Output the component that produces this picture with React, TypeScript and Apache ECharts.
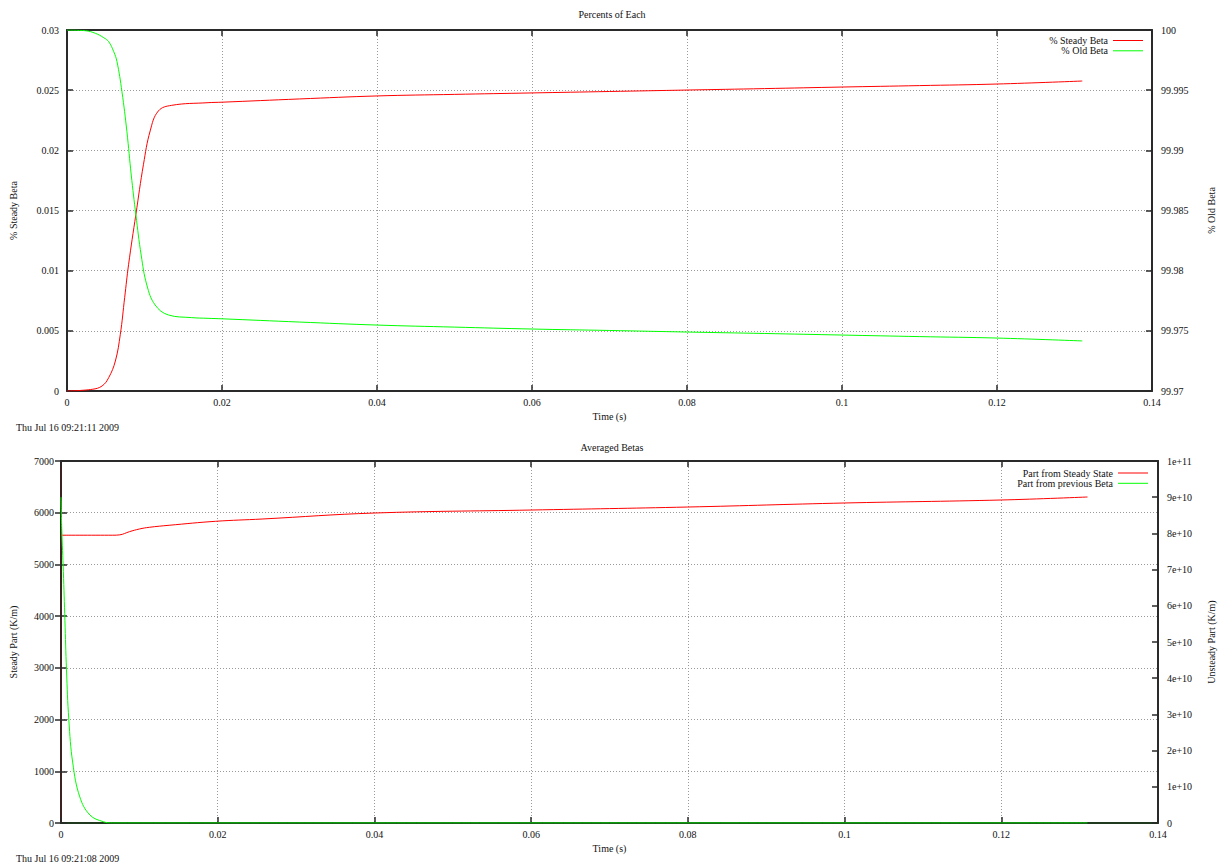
import React, { useEffect, useRef } from "react";
import * as echarts from "echarts";

// ---------- Data: "Percents of Each" (top chart) ----------
const steadyBetaTime = [
  0, 0.00325, 0.00453, 0.00538, 0.00624, 0.00688, 0.00744, 0.00795, 0.00889,
  0.00987, 0.01073, 0.01179, 0.0135, 0.0182, 0.02, 0.03, 0.04, 0.05, 0.06,
  0.07, 0.08, 0.09, 0.1, 0.11, 0.12, 0.131,
];
const steadyBetaPct = [
  0, 0.00014, 0.00042, 0.00111, 0.00249, 0.00471, 0.00776, 0.01053, 0.01468,
  0.01884, 0.02161, 0.02327, 0.02374, 0.02396, 0.024, 0.02427, 0.02452,
  0.02465, 0.02477, 0.02489, 0.02501, 0.02513, 0.02526, 0.02538, 0.02551,
  0.02576,
];
const oldBetaTime = [
  0, 0.00239, 0.00368, 0.00474, 0.00538, 0.00603, 0.00645, 0.00709, 0.00773,
  0.00829, 0.00889, 0.00957, 0.0103, 0.01137, 0.01308, 0.01607, 0.0182, 0.02,
  0.03, 0.04, 0.05, 0.06, 0.07, 0.08, 0.09, 0.1, 0.11, 0.12, 0.131,
];
const oldBetaPct = [
  100, 99.99994, 99.99972, 99.99936, 99.99903, 99.9982, 99.99737, 99.99488,
  99.99155, 99.98795, 99.98463, 99.9813, 99.97881, 99.97715, 99.97632,
  99.9761, 99.97604, 99.976, 99.97573, 99.97548, 99.97531, 99.97515, 99.97503,
  99.9749, 99.97478, 99.97465, 99.97452, 99.9744, 99.97416,
];

// ---------- Data: "Averaged Betas" (bottom chart) ----------
const steadyPartTime = [
  0, 0.0066, 0.0075, 0.00873, 0.01, 0.01127, 0.0138, 0.01973, 0.02566, 0.04,
  0.06, 0.08, 0.1, 0.12, 0.131,
];
const steadyPartValue = [
  5565, 5565, 5572, 5633, 5685, 5718, 5757, 5834, 5878, 5994, 6052, 6110,
  6188, 6246, 6304,
];
const unsteadyPartTime = [
  0, 0.0001, 0.0003, 0.0005, 0.0007, 0.001, 0.0015, 0.0024, 0.0037, 0.0054,
  0.0066, 0.02, 0.04, 0.06, 0.08, 0.1, 0.12, 0.131,
];
const unsteadyPartValue = [
  9.0e10, 8.1e10, 6.95e10, 5.6e10, 4.23e10, 2.85e10, 1.66e10, 7.2e9, 2.2e9,
  3.6e8, 0, 0, 0, 0, 0, 0, 0, 0,
];

// ---------- Text ----------
const topTitle = "Percents of Each";
const bottomTitle = "Averaged Betas";
const topDate = "Thu Jul 16 09:21:11 2009";
const bottomDate = "Thu Jul 16 09:21:08 2009";
const topSeriesNames = ["% Steady Beta", "% Old Beta"];
const bottomSeriesNames = ["Part from Steady State", "Part from previous Beta"];

const FONT = "Liberation Serif";
const TXT = "#111";
const AX = "#2a2a2a";
const RED = "#ff0000";
const GREEN = "#00ff00";

const zip = (xs: number[], ys: number[]) => xs.map((x, i) => [x, ys[i]]);
const fmtNum = (v: number) => String(parseFloat(v.toFixed(6)));
const fmtExp = (v: number) => (v === 0 ? "0" : v.toExponential(0));

const splitLine = {
  show: true,
  lineStyle: { color: "#9a9a9a", type: [1, 2], width: 1 },
};
const label = (extra: any = {}) => ({
  fontFamily: FONT,
  fontSize: 10,
  color: TXT,
  ...extra,
});

function xAxes(gridIndex: number, lineColor: string) {
  return [
    {
      type: "value",
      gridIndex,
      position: "bottom",
      min: 0,
      max: 0.14,
      interval: 0.02,
      name: "Time (s)",
      nameLocation: "middle",
      nameGap: 20,
      nameTextStyle: label(),
      axisLine: { show: true, onZero: false, lineStyle: { color: lineColor, width: 2 } },
      axisTick: { show: true, inside: true, length: 6, lineStyle: { color: AX, width: 1.5 } },
      axisLabel: label({ margin: 6, formatter: fmtNum }),
      splitLine,
    },
    {
      type: "value",
      gridIndex,
      position: "top",
      min: 0,
      max: 0.14,
      interval: 0.02,
      axisLine: { show: true, onZero: false, lineStyle: { color: AX, width: 2 } },
      axisTick: { show: true, inside: true, length: 6, lineStyle: { color: AX, width: 1.5 } },
      axisLabel: { show: false },
      splitLine: { show: false },
    },
  ];
}

function lineSeries(name: string, xi: number, yi: number, data: number[][], color: string) {
  return {
    name,
    type: "line",
    xAxisIndex: xi,
    yAxisIndex: yi,
    data,
    showSymbol: false,
    smooth: 0.4,
    color,
    lineStyle: { color, width: 1 },
  };
}

export default function App() {
  const ref = useRef<HTMLDivElement>(null);

  useEffect(() => {
    if (!ref.current) return;
    const chart = echarts.init(ref.current, null, { renderer: "svg" });

    const legendBase = {
      orient: "vertical",
      align: "right",
      padding: 0,
      itemGap: 0.3,
      itemWidth: 30,
      itemHeight: 1,
      icon: "rect",
      selectedMode: false,
      textStyle: label({ lineHeight: 10 }),
    };

    const option: any = {
      animation: false,
      backgroundColor: "#ffffff",
      textStyle: { fontFamily: FONT },
      title: [
        { text: topTitle, left: "center", top: 9, padding: 0, textStyle: label({ fontWeight: "normal" }) },
        { text: bottomTitle, left: "center", top: 442, padding: 0, textStyle: label({ fontWeight: "normal" }) },
        { text: topDate, left: 16, top: 422, padding: 0, textStyle: label({ fontWeight: "normal" }) },
        { text: bottomDate, left: 16, top: 853, padding: 0, textStyle: label({ fontWeight: "normal" }) },
      ],
      legend: [
        { ...legendBase, data: topSeriesNames, right: 81, top: 35.5 },
        { ...legendBase, data: bottomSeriesNames, right: 76, top: 468 },
      ],
      grid: [
        { left: 64, right: 69, top: 30, height: 361 },
        { left: 58, right: 64, top: 461, height: 362 },
      ],
      xAxis: [...xAxes(0, AX), ...xAxes(1, "#1f3a1f")],
      yAxis: [
        {
          type: "value",
          gridIndex: 0,
          position: "left",
          min: 0,
          max: 0.03,
          interval: 0.005,
          name: "% Steady Beta",
          nameLocation: "middle",
          nameGap: 49,
          nameTextStyle: label(),
          axisLine: { show: true, onZero: false, lineStyle: { color: AX, width: 2 } },
          axisTick: { show: true, inside: true, length: 6, lineStyle: { color: AX, width: 1.5 } },
          axisLabel: label({ margin: 8, formatter: fmtNum }),
          splitLine,
        },
        {
          type: "value",
          gridIndex: 0,
          position: "right",
          min: 99.97,
          max: 100,
          interval: 0.005,
          name: "% Old Beta",
          nameLocation: "middle",
          nameGap: 54,
          nameTextStyle: label(),
          axisLine: { show: true, onZero: false, lineStyle: { color: AX, width: 2 } },
          axisTick: { show: true, inside: true, length: 6, lineStyle: { color: AX, width: 1.5 } },
          axisLabel: label({ margin: 9, formatter: fmtNum }),
          splitLine: { show: false },
        },
        {
          type: "value",
          gridIndex: 1,
          position: "left",
          min: 0,
          max: 7000,
          interval: 1000,
          name: "Steady Part (K/m)",
          nameLocation: "middle",
          nameGap: 43,
          nameTextStyle: label(),
          axisLine: { show: true, onZero: false, lineStyle: { color: "#3d2222", width: 2 } },
          axisTick: { show: true, inside: true, length: 6, lineStyle: { color: AX, width: 1.5 } },
          axisLabel: label({ margin: 7, formatter: fmtNum }),
          splitLine,
        },
        {
          type: "value",
          gridIndex: 1,
          position: "right",
          min: 0,
          max: 1e11,
          interval: 1e10,
          name: "Unsteady Part (K/m)",
          nameLocation: "middle",
          nameGap: 48,
          nameTextStyle: label(),
          axisLine: { show: true, onZero: false, lineStyle: { color: AX, width: 2 } },
          axisTick: { show: true, inside: true, length: 6, lineStyle: { color: AX, width: 1.5 } },
          axisLabel: label({ margin: 9, formatter: fmtExp }),
          splitLine: { show: false },
        },
        {
          type: "value",
          gridIndex: 1,
          position: "right",
          min: 0,
          max: 7000,
          interval: 1000,
          axisLine: { show: false },
          axisTick: { show: true, inside: true, length: 6, lineStyle: { color: AX, width: 1.5 } },
          axisLabel: { show: false },
          splitLine: { show: false },
        },
      ],
      series: [
        lineSeries(topSeriesNames[0], 0, 0, zip(steadyBetaTime, steadyBetaPct), RED),
        lineSeries(topSeriesNames[1], 0, 1, zip(oldBetaTime, oldBetaPct), GREEN),
        lineSeries(bottomSeriesNames[0], 2, 2, zip(steadyPartTime, steadyPartValue), RED),
        lineSeries(bottomSeriesNames[1], 2, 3, zip(unsteadyPartTime, unsteadyPartValue), GREEN),
      ],
    };

    chart.setOption(option);
    return () => chart.dispose();
  }, []);

  return (
    <div
      ref={ref}
      style={{ position: "absolute", left: 0, top: 0, width: 1224, height: 864, background: "#fff" }}
    />
  );
}
